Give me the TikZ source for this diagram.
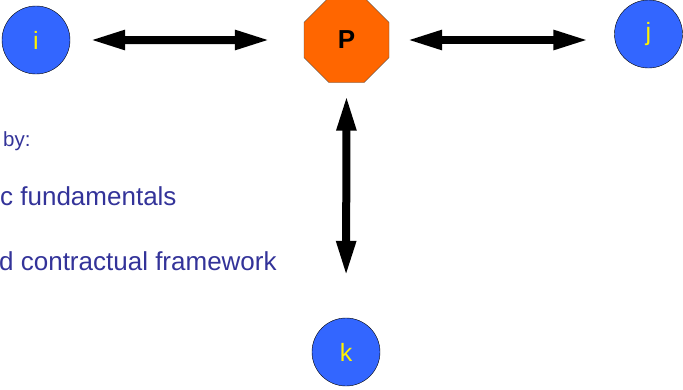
\documentclass[tikz,border=0pt]{standalone}
\usepackage{fontspec}
\setmainfont{Liberation Sans}
\usetikzlibrary{shapes.geometric,arrows.meta}
\definecolor{ballblue}{RGB}{51,102,255}
\definecolor{hubor}{RGB}{255,102,0}
\definecolor{txtblue}{RGB}{51,51,153}
\tikzset{
  party/.style={circle,draw=black,fill=ballblue,minimum size=68pt,inner sep=0pt,
    text=yellow,font=\fontsize{25}{27}\selectfont},
  hub/.style={regular polygon,regular polygon sides=8,draw=black!70,fill=hubor,
    minimum size=92pt,inner sep=0pt,font=\fontsize{26}{28}\selectfont\bfseries},
  dbl/.style={{Triangle[length=36pt,width=18pt]}-{Triangle[length=36pt,width=18pt]},line width=8pt},
  bul/.style={anchor=base west,inner sep=0pt,text=txtblue}
}
\begin{document}
\begin{tikzpicture}[x=1pt,y=-1pt]
\useasboundingbox (0,0) rectangle (683,389);
\node[party] (i) at (36,40) {i};
\node[hub] (P) at (346.5,40) {P};
\node[party] (j) at (648.5,34) {j};
\node[party] (k) at (346,352) {k};
\draw[dbl,shorten <=19pt,shorten >=33pt] (i.east) -- (P.west);
\draw[dbl,shorten <=17pt,shorten >=25pt] (P.east) -- (P.east -| j.west);
\draw[dbl,shorten <=12pt,shorten >=41pt] (P.south) -- (k.north);
\node[bul,font=\fontsize{20.5}{23}\selectfont] (by) at (3,146) {by:};
\node[bul,font=\fontsize{26}{30}\selectfont] (fund) at (0,205) {c fundamentals};
\node[bul,font=\fontsize{26}{30}\selectfont] (frame) at (-1,270) {d contractual framework};
\end{tikzpicture}
\end{document}
